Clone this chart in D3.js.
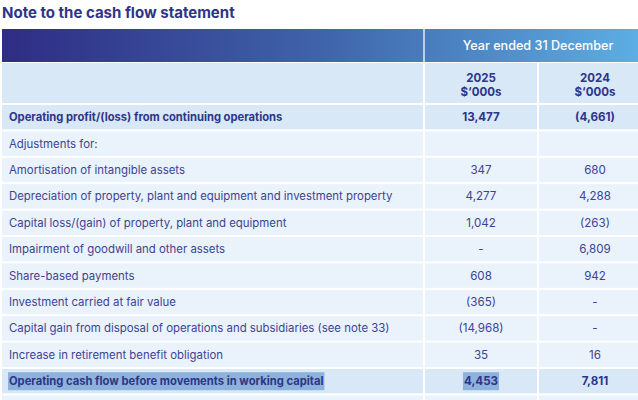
<!DOCTYPE html>
<html>
<head>
<meta charset="utf-8">
<script src="https://cdn.jsdelivr.net/npm/d3@7"></script>
<style>
  body { margin: 0; background: #fff; }
  svg { display: block; font-family: Inter, "Noto Sans", sans-serif; }
</style>
</head>
<body>
<div id="table"></div>
<script>
const title = 'Note to the cash flow statement'
const periodLabel = 'Year ended 31 December'
const years = ['2025', '2024']
const unit = '$\u2018000s'

const labels = [
  'Operating profit/(loss) from continuing operations',
  'Adjustments for:',
  'Amortisation of intangible assets',
  'Depreciation of property, plant and equipment and investment property',
  'Capital loss/(gain) of property, plant and equipment',
  'Impairment of goodwill and other assets',
  'Share-based payments',
  'Investment carried at fair value',
  'Capital gain from disposal of operations and subsidiaries (see note 33)',
  'Increase in retirement benefit obligation',
  'Operating cash flow before movements in working capital',
  ''
]
const values2025 = [13477, null, 347, 4277, 1042, 0, 608, -365, -14968, 35, 4453, null]
const values2024 = [-4661, null, 680, 4288, -263, 6809, 942, 0, 0, 16, 7811, null]
const boldRows = [0, 10]
const selectedRow = 10

const W = 638, H = 400
const x0 = 2, xSplit = 424, xMid = 538, xEnd = 652
const headTop = 29, subTop = 62, bodyTop = 104, rowH = 26.4

const navy = '#2d3589'
const bodyText = '#3d4394'
const darkFill = '#d9e8f7'
const lightFill = '#eaf2fb'

const fmt = v => v == null ? '' : v === 0 ? '-' : v < 0 ? `(${d3.format(',')(-v)})` : d3.format(',')(v)

const svg = d3.select('#table')
              .append('svg')
              .attr('width', W)
              .attr('height', H)

const defs = svg.append('defs')
const grad = defs.append('linearGradient')
                 .attr('id', 'head')
                 .attr('gradientUnits', 'userSpaceOnUse')
                 .attr('x1', x0).attr('x2', W).attr('y1', 0).attr('y2', 0)
grad.append('stop').attr('offset', 0).attr('stop-color', '#2f2c84')
grad.append('stop').attr('offset', 0.5).attr('stop-color', '#3f63aa')
grad.append('stop').attr('offset', 1).attr('stop-color', '#5caee3')

svg.append('text')
    .attr('x', x0)
    .attr('y', 18)
    .attr('fill', navy)
    .attr('font-size', 15)
    .attr('font-weight', 700)
    .text(title)

// Scales
const rowScale = d3.scaleBand()
                   .domain(d3.range(labels.length))
                   .range([bodyTop, bodyTop + rowH * labels.length])

const cols = ['label', '2025', '2024']
const colX = d3.scaleOrdinal()
               .domain(cols)
               .range([x0, xSplit, xMid])
const colEnd = d3.scaleOrdinal()
                 .domain(cols)
                 .range([xSplit, xMid, xEnd])

// Header band
svg.append('rect')
    .attr('x', x0).attr('y', headTop)
    .attr('width', W - x0).attr('height', subTop - headTop)
    .attr('fill', 'url(#head)')
svg.append('line')
    .attr('x1', xSplit).attr('x2', xSplit)
    .attr('y1', headTop).attr('y2', subTop)
    .attr('stroke', '#fff').attr('stroke-width', 1.5).attr('opacity', 0.85)
svg.append('text')
    .attr('x', (xSplit + xEnd) / 2)
    .attr('y', 46)
    .attr('dy', '0.35em')
    .attr('text-anchor', 'middle')
    .attr('fill', '#fff')
    .attr('font-size', 12.6)
    .attr('font-weight', 500)
    .text(periodLabel)

// Sub header
svg.selectAll('rect.sub')
    .data(cols).enter()
    .append('rect')
        .attr('class', 'sub')
        .attr('x', d => colX(d) + (d === 'label' ? 0 : 1))
        .attr('y', subTop + 1)
        .attr('width', d => colEnd(d) - colX(d) - (d === 'label' ? 1 : 2))
        .attr('height', bodyTop - subTop - 2)
        .attr('fill', darkFill)

// year and unit, two stacked lines per column
years.forEach(y => {
    const cx = (colX(y) + colEnd(y)) / 2
    ;[[y, 81.5], [unit, 95.5]].forEach(([t, yy]) => {
        svg.append('text')
            .attr('class', 'year')
            .attr('x', cx)
            .attr('y', yy)
            .attr('text-anchor', 'middle')
            .attr('fill', navy)
            .attr('font-size', 11.5)
            .attr('font-weight', 700)
            .text(t)
    })
})

// Body cells
const rows = svg.selectAll('g.row')
    .data(labels.map((l, i) => ({label: l, i, v2025: values2025[i], v2024: values2024[i]})))
    .enter()
    .append('g')
        .attr('class', 'row')
        .attr('transform', d => `translate(0, ${rowScale(d.i)})`)

rows.selectAll('rect')
    .data(d => cols.map(c => ({c, i: d.i})))
    .enter()
    .append('rect')
        .attr('x', d => colX(d.c) + (d.c === 'label' ? 0 : 1))
        .attr('y', 1)
        .attr('width', d => colEnd(d.c) - colX(d.c) - (d.c === 'label' ? 1 : 2))
        .attr('height', rowScale.bandwidth() - 2)
        .attr('fill', d => boldRows.includes(d.i) ? darkFill : lightFill)

const cy = rowScale.bandwidth() / 2

rows.append('text')
    .attr('class', 'lab')
    .attr('x', 9)
    .attr('y', cy)
    .attr('dy', '0.35em')
    .attr('fill', d => boldRows.includes(d.i) ? navy : bodyText)
    .attr('font-size', d => boldRows.includes(d.i) ? 11.2 : 11.4)
    .attr('font-weight', d => boldRows.includes(d.i) ? 700 : 400)
    .text(d => d.label)

years.forEach(y => {
    rows.append('text')
        .attr('class', 'v' + y)
        .attr('x', (colX(y) + colEnd(y)) / 2)
        .attr('y', cy)
        .attr('dy', '0.35em')
        .attr('text-anchor', 'middle')
        .attr('fill', d => boldRows.includes(d.i) ? navy : bodyText)
        .attr('font-size', 11.6)
        .attr('font-weight', d => boldRows.includes(d.i) ? 700 : 400)
        .text(d => fmt(d['v' + y]))
})

// selection highlight on the last summary row
rows.filter(d => d.i === selectedRow)
    .selectAll('text.lab, text.v2025').each(function () {
        const b = this.getBBox()
        d3.select(this.parentNode)
          .insert('rect', () => this)
            .attr('x', b.x - 1)
            .attr('y', cy - 9)
            .attr('width', b.width + 2)
            .attr('height', 18)
            .attr('fill', '#8eb2dc')
    })
</script>
</body>
</html>
